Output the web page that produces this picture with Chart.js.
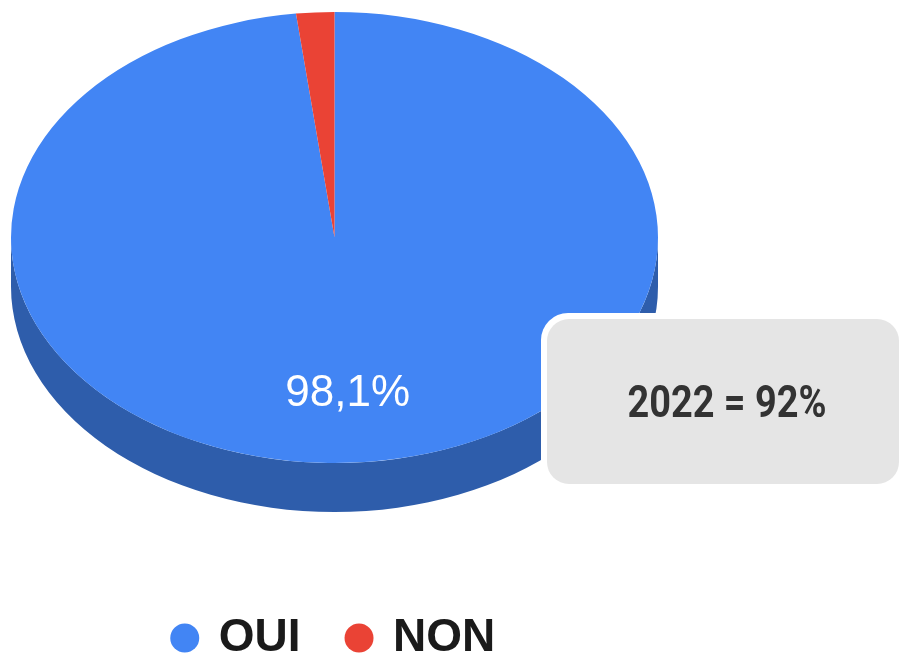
<!DOCTYPE html>
<html>
<head>
<meta charset="utf-8">
<style>
  html, body { margin: 0; padding: 0; background: #ffffff; overflow: hidden; }
  #wrap { position: relative; width: 901px; height: 656px; }
</style>
<script src="https://cdn.jsdelivr.net/npm/chart.js@4.4.1/dist/chart.umd.min.js"></script>
</head>
<body>
<div id="wrap"><canvas id="chart" width="901" height="656"></canvas></div>
<script>
// ---- data ----
const categories = ['OUI', 'NON'];
const values = [98.1, 1.9];
const calloutText = '2022 = 92%';

// ---- style ----
const sliceColors = ['#4285F4', '#EA4335'];
const sideColors = ['#2E5DAB', '#A32F26'];
const TILT = 225.5 / 323.5;        // vertical squash of the pie top
const DEPTH = 49 / 323.5;          // side depth relative to radius
const LABEL_R = 0.68;              // slice label position (fraction of radius)
const MIN_LABEL_VALUE = 5;         // slices smaller than this get no text

function formatPct(v) { return v.toFixed(1).replace('.', ',') + '%'; }

function pieGeom(chart) {
  const a = chart.chartArea;
  const rx = (a.right - a.left) / 2;
  const ry = rx * TILT;
  return { cx: (a.left + a.right) / 2, cy: a.top + ry, rx, ry, depth: rx * DEPTH };
}

const pie3d = {
  id: 'pie3d',
  beforeDatasetsDraw(chart) {
    const ctx = chart.ctx;
    const g = pieGeom(chart);
    const meta = chart.getDatasetMeta(0);
    ctx.save();
    // side walls (front half only: canvas angles 0..PI)
    meta.data.forEach((arc, i) => {
      const s = arc.startAngle, e = arc.endAngle;
      for (let k = -1; k <= 2; k++) {
        const lo = Math.max(s, k * 2 * Math.PI);
        const hi = Math.min(e, k * 2 * Math.PI + Math.PI);
        if (hi > lo) {
          ctx.beginPath();
          ctx.ellipse(g.cx, g.cy + g.depth, g.rx, g.ry, 0, lo, hi);
          ctx.ellipse(g.cx, g.cy, g.rx, g.ry, 0, hi, lo, true);
          ctx.closePath();
          ctx.fillStyle = sideColors[i];
          ctx.fill();
        }
      }
    });
    // squash the pie top into an ellipse
    const arc0 = meta.data[0];
    const R = arc0.outerRadius;
    ctx.translate(g.cx, g.cy);
    ctx.scale(g.rx / R, g.ry / R);
    ctx.translate(-arc0.x, -arc0.y);
  },
  afterDatasetsDraw(chart) {
    const ctx = chart.ctx;
    ctx.restore();
    const g = pieGeom(chart);
    const meta = chart.getDatasetMeta(0);
    ctx.save();
    ctx.fillStyle = '#ffffff';
    ctx.font = '44px "Liberation Sans", Arial, sans-serif';
    ctx.textAlign = 'center';
    ctx.textBaseline = 'alphabetic';
    meta.data.forEach((arc, i) => {
      if (values[i] < MIN_LABEL_VALUE) return;
      const m = (arc.startAngle + arc.endAngle) / 2;
      const x = g.cx + Math.cos(m) * g.rx * LABEL_R;
      const y = g.cy + Math.sin(m) * g.ry * LABEL_R;
      ctx.fillText(formatPct(values[i]), x, y + 0.358 * 44);
    });
    ctx.restore();
  },
  afterDraw(chart) {
    const ctx = chart.ctx;
    ctx.save();
    // callout box with white frame
    ctx.beginPath();
    ctx.roundRect(541, 313, 370, 177, 27);
    ctx.fillStyle = '#ffffff';
    ctx.fill();
    ctx.beginPath();
    ctx.roundRect(547, 319, 352, 165, 22);
    ctx.fillStyle = '#e5e5e5';
    ctx.fill();
    // callout text (condensed bold)
    ctx.font = 'bold 44px Roboto, "Liberation Sans", sans-serif';
    ctx.fillStyle = '#333333';
    ctx.textBaseline = 'alphabetic';
    ctx.textAlign = 'center';
    const w = ctx.measureText(calloutText).width;
    const sx = 199 / w;
    ctx.translate(727, 417);
    ctx.scale(sx, 1);
    ctx.fillText(calloutText, 0, 0);
    ctx.restore();
  }
};

new Chart(document.getElementById('chart'), {
  type: 'pie',
  data: {
    labels: categories,
    datasets: [{
      data: values,
      backgroundColor: sliceColors,
      borderWidth: 0,
      clip: false
    }]
  },
  options: {
    responsive: false,
    animation: false,
    devicePixelRatio: 1,
    rotation: 0,
    layout: { padding: { top: 12, left: 11, right: 243, bottom: -15 } },
    events: [],
    plugins: {
      tooltip: { enabled: false },
      legend: {
        position: 'bottom',
        labels: {
          usePointStyle: true,
          pointStyle: 'circle',
          boxWidth: 22,
          boxHeight: 20.5,
          padding: 47.5,
          color: '#1a1a1a',
          font: { family: '"Liberation Sans", Arial, sans-serif', size: 46, weight: 'bold' }
        }
      }
    }
  },
  plugins: [pie3d]
});
</script>
</body>
</html>
